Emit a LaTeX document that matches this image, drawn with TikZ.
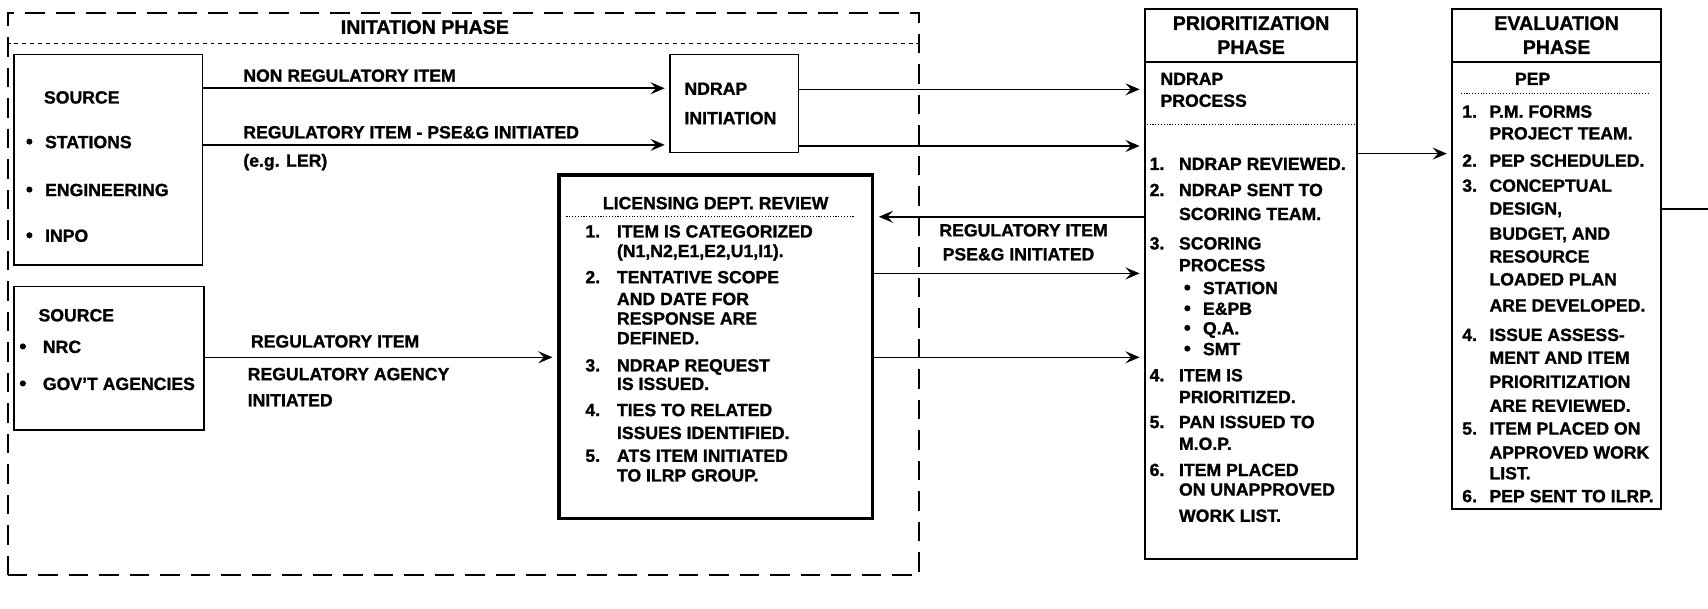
\documentclass[tikz,border=0pt]{standalone}
\usepackage{fontspec}
\setmainfont{Liberation Sans}[BoldFeatures={FakeBold=1.2}]
\usetikzlibrary{arrows.meta,fit}

\begin{document}
\begin{tikzpicture}
[
x=0.5pt,y=-0.5pt,
flowpath/.style={draw,line width=0.7pt,-{Stealth[length=6.5pt,width=5.5pt,inset=2.5pt]},shorten >=2pt},
boxframe/.style={draw,line width=0.8pt,inner sep=0pt},
reviewframe/.style={boxframe,line width=1.8pt},
phaseframe/.style={draw,line width=0.9pt,dash pattern=on 9pt off 5pt,inner sep=0pt},
titleline/.style={line width=0.6pt,dash pattern=on 1.8pt off 1.8pt},
dotline/.style={line width=0.6pt,dash pattern=on 0.5pt off 0.8pt},
itemtext/.style={anchor=base west,inner sep=0pt,font=\bfseries\fontsize{8.1}{9.7}\selectfont},
headtext/.style={anchor=base,inner sep=0pt,font=\bfseries\fontsize{9}{10.8}\selectfont},
bullet/.style={circle,fill,inner sep=0pt,minimum size=2.8pt}
]

\useasboundingbox (0,0) rectangle (1568,559);

% initiation phase
\node[phaseframe,fit={(7,12) (844,528)}] (initphase) {};
\node[headtext] (inittitle) at (390,31) {INITATION PHASE};
\draw[titleline] (initphase.west |- 0,40) -- (initphase.east |- 0,40);

% sources
\node[boxframe,fit={(13,50) (186,243)}] (srcA) {};
\node[itemtext] (srcAhead) at (40,95) {SOURCE};
\foreach \y/\t [count=\k] in {130/STATIONS,174/ENGINEERING,216/INPO} {
  \node[bullet] (srcAdot\k) at (27,\y) {};
  \node[itemtext] (srcAitem\k) at (41,\y+6) {\t};
}

\node[boxframe,fit={(13,263) (187,395)}] (srcB) {};
\node[itemtext] (srcBhead) at (35,295) {SOURCE};
\foreach \y/\t [count=\k] in {318/NRC,352/GOV'T AGENCIES} {
  \node[bullet] (srcBdot\k) at (21,\y) {};
  \node[itemtext] (srcBitem\k) at (39,\y+6) {\t};
}

% ndrap initiation
\node[boxframe,fit={(615,50) (733,140)}] (ndrap) {};
\node[itemtext] (ndrapA) at (628,87) {NDRAP};
\node[itemtext] (ndrapB) at (628,114) {INITIATION};

% licensing review
\node[reviewframe,fit={(513,161) (801,476)}] (lic) {};
\node[itemtext,anchor=base] (lictitle) at (657,192) {LICENSING DEPT. REVIEW};
\draw[dotline] (520,199) -- (785,199);
\foreach \y/\n/\t [count=\k] in {212/1./ITEM IS CATEGORIZED,230//{(N1,N2,E1,E2,U1,I1).},
  254/2./TENTATIVE SCOPE,274//AND DATE FOR,292//RESPONSE ARE,310//DEFINED.,
  335/3./NDRAP REQUEST,352//IS ISSUED.,376/4./TIES TO RELATED,397//ISSUES IDENTIFIED.,
  418/5./ATS ITEM INITIATED,436//TO ILRP GROUP.} {
  \node[itemtext] (lic\k) at (537,\y+6) {\makebox[14.5pt][l]{\n}\t};
}

% prioritization phase
\node[boxframe,fit={(1051,8) (1246,513)}] (prio) {};
\node[boxframe,fit={(1051,8) (1246,57)}] (priohead) {};
\node[headtext] (prioA) at (priohead.center |- 0,27.5) {PRIORITIZATION};
\node[headtext] (prioB) at (priohead.center |- 0,49.5) {PHASE};
\node[itemtext] (prioC) at (1065,78) {NDRAP};
\node[itemtext] (prioD) at (1065,98) {PROCESS};
\draw[dotline] (prio.west |- 0,114) -- (prio.east |- 0,114);
\foreach \y/\n/\t [count=\k] in {150/1./NDRAP REVIEWED.,174/2./NDRAP SENT TO,196//SCORING TEAM.,
  223/3./SCORING,243//PROCESS,344/4./ITEM IS,364//PRIORITIZED.,387/5./PAN ISSUED TO,
  407//M.O.P.,431/6./ITEM PLACED,449//ON UNAPPROVED,473//WORK LIST.} {
  \node[itemtext] (prio\k) at (1055,\y+6) {\makebox[13.5pt][l]{\n}\t};
}
\foreach \y/\t [count=\k] in {264/STATION,283/E\&PB,301/Q.A.,320/SMT} {
  \node[bullet] (priodot\k) at (1090,\y) {};
  \node[itemtext] (prioteam\k) at (1104,\y+6) {\t};
}

% evaluation phase
\node[boxframe,fit={(1333,8) (1525,467)}] (eval) {};
\node[boxframe,fit={(1333,8) (1525,57)}] (evalhead) {};
\node[headtext] (evalA) at (evalhead.center |- 0,27.5) {EVALUATION};
\node[headtext] (evalB) at (evalhead.center |- 0,49.5) {PHASE};
\node[itemtext,anchor=base] (evalC) at (1407,78) {PEP};
\draw[dotline] (1341,86) -- (1515,86);
\foreach \y/\n/\t [count=\k] in {102/1./P.M. FORMS,122//PROJECT TEAM.,147/2./PEP SCHEDULED.,
  170/3./CONCEPTUAL,191//{DESIGN,},214//{BUDGET, AND},235//RESOURCE,256//LOADED PLAN,
  280//ARE DEVELOPED.,307/4./ISSUE ASSESS-,328//MENT AND ITEM,350//PRIORITIZATION,
  372//ARE REVIEWED.,393/5./ITEM PLACED ON,415//APPROVED WORK,434//LIST.,
  455/6./PEP SENT TO ILRP.} {
  \node[itemtext] (eval\k) at (1342,\y+6) {\makebox[12.5pt][l]{\n}\t};
}

% connector labels
\node[itemtext] (lblNonReg) at (223,75) {NON REGULATORY ITEM};
\node[itemtext] (lblPseg) at (223,127) {REGULATORY ITEM - PSE\&G INITIATED};
\node[itemtext] (lblLer) at (223,153) {(e.g. LER)};
\node[itemtext] (lblAgA) at (230,319) {REGULATORY ITEM};
\node[itemtext] (lblAgB) at (227,349) {REGULATORY AGENCY};
\node[itemtext] (lblAgC) at (227,373) {INITIATED};
\node[itemtext] (lblBackA) at (862,217) {REGULATORY ITEM};
\node[itemtext] (lblBackB) at (865,239) {PSE\&G INITIATED};

% connectors
\draw[flowpath] (srcA.east |- 0,81) -- (ndrap.west |- 0,81);
\draw[flowpath] (srcA.east |- 0,133) -- (ndrap.west |- 0,133);
\draw[flowpath] (ndrap.east |- 0,82) -- (prio.west |- 0,82);
\draw[flowpath] (ndrap.east |- 0,134) -- (prio.west |- 0,134);
\draw[flowpath] (prio.west |- 0,199) -- (lic.east |- 0,199);
\draw[flowpath] (lic.east |- 0,251) -- (prio.west |- 0,251);
\draw[flowpath] (lic.east |- 0,328) -- (prio.west |- 0,328);
\draw[flowpath] (srcB.east |- 0,328) -- (lic.west |- 0,328);
\draw[flowpath] (prio.east |- 0,141) -- (eval.west |- 0,141);
\coordinate (evalout) at (1568,192);
\draw[line width=0.7pt] (eval.east |- evalout) -- (evalout);

\end{tikzpicture}
\end{document}
